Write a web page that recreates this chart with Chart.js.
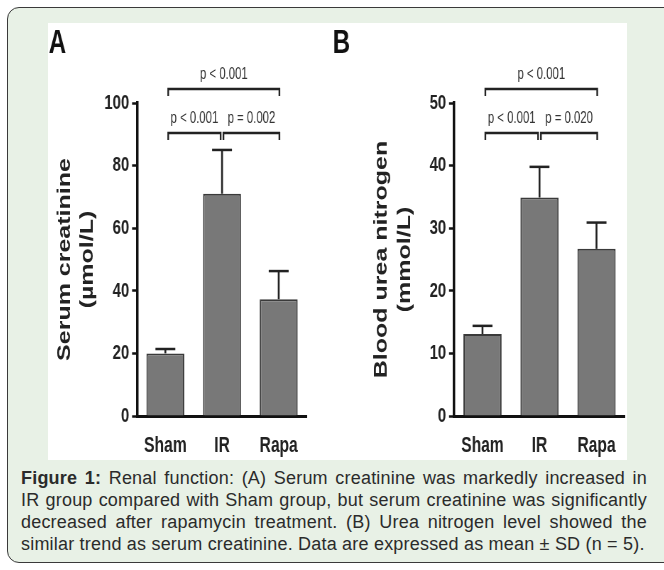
<!DOCTYPE html>
<html>
<head>
<meta charset="utf-8">
<script src="https://cdn.jsdelivr.net/npm/chart.js@4/dist/chart.umd.min.js"></script>
<style>
	body {
		margin: 0;
		width: 664px;
		height: 570px;
		position: relative;
		overflow: hidden;
		background: #fff;
		font-family: 'Liberation Sans', Arial, sans-serif;
	}
	.frame {
		position: absolute;
		left: 7px;
		top: 7px;
		width: 680px;
		height: 554px;
		border: 1.5px solid #3a3a3a;
		border-radius: 12px;
		background: #e8f1e6;
	}
	.panel {
		position: absolute;
		left: 48px;
		top: 23px;
		width: 579px;
		height: 437px;
		background: #fff;
	}
	.squeeze {
		position: absolute;
		top: 23px;
		transform: scaleX(0.71);
		transform-origin: 0 0;
	}
	.caption {
		position: absolute;
		left: 21px;
		top: 467px;
		width: 626px;
		font-size: 18px;
		letter-spacing: 0.2px;
		line-height: 22px;
		color: #2b2b2b;
		text-align: justify;
	}
</style>
</head>
<body>
<div class="frame"></div>
<div class="panel"></div>
<div class="squeeze" style="left: 48px;"><canvas id="chartA" width="400" height="437"></canvas></div>
<div class="squeeze" style="left: 332px;"><canvas id="chartB" width="416" height="437"></canvas></div>
<div class="caption"><b>Figure 1:</b> Renal function: (A) Serum creatinine was markedly increased in IR group compared with Sham group, but serum creatinine was significantly decreased after rapamycin treatment. (B) Urea nitrogen level showed the similar trend as serum creatinine. Data are expressed as mean ± SD (n = 5).</div>

<script>
const groups = ['Sham', 'IR', 'Rapa'];

const creatMean = [20, 71, 37.3];
const creatSD = [1.4, 14, 9];
const creatMax = 100;
const creatStep = 20;

const bunMean = [13.1, 34.9, 26.7];
const bunSD = [1.3, 4.9, 4.2];
const bunMax = 50;
const bunStep = 10;

// comparisons: [from, to, label]
const creatPairs = [[0, 1, 'p < 0.001'], [1, 2, 'p = 0.002'], [0, 2, 'p < 0.001']];
const bunPairs = [[0, 1, 'p < 0.001'], [1, 2, 'p = 0.020'], [0, 2, 'p < 0.001']];

const ink = '#222';
const font = 'Liberation Sans, Arial, sans-serif';

function line(ctx, x1, y1, x2, y2) {
	ctx.beginPath();
	ctx.moveTo(x1, y1);
	ctx.lineTo(x2, y2);
	ctx.stroke();
}

// error bars, significance brackets and panel letter
const extras = {
	id: 'extras',
	afterDatasetsDraw(chart, args, opts) {
		const ctx = chart.ctx;
		const x = chart.scales.x;
		const y = chart.scales.y;
		const area = chart.chartArea;
		ctx.save();
		ctx.strokeStyle = ink;

		opts.mean.forEach((m, i) => {
			const cx = x.getPixelForValue(i);
			const top = y.getPixelForValue(m);
			const end = y.getPixelForValue(m + opts.sd[i]);
			ctx.lineWidth = 2.6;
			line(ctx, cx, top, cx, end);
			ctx.lineWidth = 2.5;
			line(ctx, cx - 14, end, cx + 14, end);
		});

		ctx.lineWidth = 2.4;
		ctx.fillStyle = '#333';
		ctx.font = '16px ' + font;
		ctx.textAlign = 'center';
		ctx.textBaseline = 'middle';
		opts.pairs.forEach(([a, b, label]) => {
			const level = b - a > 1 ? area.top - 14 : area.top + 30;
			const x1 = x.getPixelForValue(a) + (a === 1 ? 2 : 4);
			const x2 = x.getPixelForValue(b) + (b === 1 ? -2 : 1);
			ctx.beginPath();
			ctx.moveTo(x1, level + 7);
			ctx.lineTo(x1, level);
			ctx.lineTo(x2, level);
			ctx.lineTo(x2, level + 7);
			ctx.stroke();
			ctx.fillText(label, (x1 + x2) / 2, level - 14);
		});

		ctx.fillStyle = '#111';
		ctx.font = 'bold 34px ' + font;
		ctx.textAlign = 'left';
		ctx.textBaseline = 'alphabetic';
		ctx.fillText(opts.letter, 1, 30);
		ctx.restore();
	},
};

function makeChart(id, mean, sd, max, step, pairs, title, letter, box) {
	return new Chart(document.getElementById(id), {
		type: 'bar',
		data: {
			labels: groups,
			datasets: [
				{
					data: mean,
					backgroundColor: '#787878',
					borderColor: '#3a3a3a',
					borderWidth: 2,
					barPercentage: 0.67,
					categoryPercentage: 1,
				},
			],
		},
		options: {
			responsive: false,
			animation: false,
			events: [],
			layout: { padding: { left: 0, right: box.right, top: 80, bottom: 0 } },
			plugins: {
				legend: { display: false },
				tooltip: { enabled: false },
				extras: { mean, sd, pairs, letter },
			},
			scales: {
				x: {
					grid: { display: false },
					border: { display: true, color: '#111', width: 3 },
					ticks: {
						color: ink,
						padding: 9,
						font: { family: font, size: 22, weight: 'bold' },
					},
					afterFit: (s) => { s.height = 44; },
				},
				y: {
					min: 0,
					max,
					grid: {
						drawOnChartArea: false,
						drawTicks: true,
						tickLength: 7,
						tickWidth: 2.5,
						color: '#111',
					},
					border: { display: true, color: '#111', width: 3.5 },
					ticks: {
						stepSize: step,
						color: ink,
						padding: 4,
						font: { family: font, size: 21, weight: 'bold' },
					},
					title: {
						display: true,
						text: title,
						color: ink,
						padding: { top: box.titlePad, bottom: 0 },
						font: { family: font, size: 25, weight: 'bold', lineHeight: 1.3 },
					},
					afterFit: (s) => { s.width = box.left; },
				},
			},
		},
		plugins: [extras],
	});
}

makeChart('chartA', creatMean, creatSD, creatMax, creatStep, creatPairs,
	['Serum creatinine', '(µmol/L)'], 'A', { left: 125.4, right: 35.2, titlePad: 7.8 });
makeChart('chartB', bunMean, bunSD, bunMax, bunStep, bunPairs,
	['Blood urea nitrogen', '(mmol/L)'], 'B', { left: 171.8, right: 3.3, titlePad: 54 });
</script>
</body>
</html>
